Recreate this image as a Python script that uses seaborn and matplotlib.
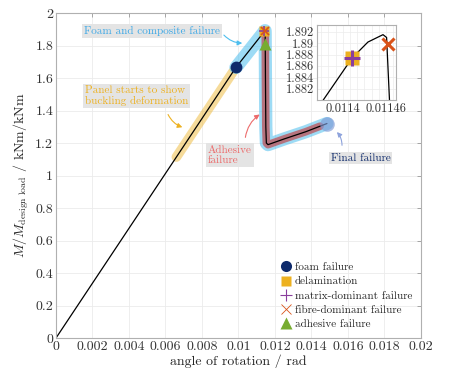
import matplotlib
matplotlib.use("Agg")
import matplotlib.pyplot as plt
import seaborn as sns
import numpy as np
from matplotlib.lines import Line2D
from matplotlib.ticker import FuncFormatter, MultipleLocator

sns.set_style("whitegrid")
plt.rcParams['font.family'] = ['cmr10', 'DejaVu Serif']
plt.rcParams['mathtext.fontset'] = 'cm'
plt.rcParams['axes.formatter.use_mathtext'] = True

# moment-rotation curve
theta = [0, 0.0066, 0.00986, 0.01137, 0.011413, 0.011435, 0.011456, 0.011461,
         0.011465, 0.01148, 0.0115, 0.01153, 0.01162, 0.0125, 0.0137, 0.01485]
moment = [0, 1.114, 1.665, 1.8795, 1.8874, 1.8902, 1.8915, 1.8910,
          1.880, 1.60, 1.30, 1.20, 1.19, 1.225, 1.27, 1.32]

# failure events
foam_pt = (0.00986, 1.665)
delam_pt = (0.011413, 1.8874)
matrix_pt = (0.011413, 1.8874)
fibre_pt = (0.011463, 1.8899)
adhesive_pt = (0.01147, 1.81)
final_pt = (0.01485, 1.32)

# highlighted ranges of rotation
buckling_range = (0.0066, 0.0097)
foam_range = (0.00986, 0.01485)
adhesive_range = (0.01147, 0.01447)

NAVY = '#0E2A6B'
ORANGE = '#EDB120'
PURPLE = '#8A3E9C'
RED = '#D95319'
GREEN = '#77AC30'
LBLUE = '#4DBEEE'
SALMON = '#EC6B6B'
GREYBOX = dict(boxstyle='square,pad=0.15', fc='#e4e4e4', ec='none')

th = np.array(theta)
mo = np.array(moment)


def band(ax, rng, **kw):
    m = (th >= rng[0]) & (th <= rng[1])
    x = np.r_[rng[0], th[m], rng[1]]
    if rng[1] < 0.0114:
        y = np.interp(x, th, mo)
    else:
        y = np.r_[np.interp(rng[0], th[:9], mo[:9]), mo[m], np.interp(rng[1], th, mo)]
    ax.plot(x, y, solid_capstyle='round', solid_joinstyle='round', **kw)


fig = plt.figure(figsize=(4.59, 3.77), dpi=100)
ax = fig.add_axes([0.122, 0.1034, 0.795, 0.862])

band(ax, buckling_range, color=ORANGE, alpha=0.45, lw=7)
band(ax, foam_range, color=LBLUE, alpha=0.55, lw=9.5)
band(ax, adhesive_range, color='#C0474C', alpha=0.7, lw=5.5)
sns.lineplot(x=theta, y=moment, sort=False, color='k', lw=0.9, ax=ax)

ax.plot(*final_pt, 'o', ms=10.5, color='#7f9ad6', alpha=0.65, mec='none')
ax.plot(*foam_pt, 'o', ms=8.5, color=NAVY, mec='none')
ax.plot(*delam_pt, 's', ms=6.5, color=ORANGE, mec='none')
ax.plot(*matrix_pt, '+', ms=7, color=PURPLE, mew=1.2)
ax.plot(*fibre_pt, 'x', ms=6, color=RED, mew=1.2)
ax.plot(*adhesive_pt, '^', ms=8.5, color=GREEN, mec='none')

ax.set_xlim(0, 0.02)
ax.set_ylim(0, 2)
ax.xaxis.set_major_locator(MultipleLocator(0.002))
ax.yaxis.set_major_locator(MultipleLocator(0.2))
fmt = FuncFormatter(lambda v, p: '{:g}'.format(round(v, 6)))
ax.xaxis.set_major_formatter(fmt)
ax.yaxis.set_major_formatter(fmt)
ax.tick_params(direction='in', top=True, right=True, length=3, width=0.6,
               color='#999999', labelsize=10, labelcolor='#333333', pad=2)
ax.grid(True, color='#ebebeb', lw=0.6)
for s in ax.spines.values():
    s.set_color('#b0b0b0')
    s.set_linewidth(0.8)
ax.set_xlabel('angle of rotation / rad', fontsize=10, color='#262626', labelpad=1)
ax.set_ylabel(r'$M/M_{\mathrm{design\ load}}$ / kNm/kNm', fontsize=10,
              color='#262626', labelpad=3)

# annotations
ax.text(0.00526, 1.889, 'Foam and composite failure', color='#3DA8E6', fontsize=8,
        ha='center', va='center', bbox=GREYBOX)
ax.annotate('', xy=(0.01036, 1.815), xytext=(0.00910, 1.877),
            arrowprops=dict(arrowstyle='-|>', color=LBLUE, lw=0.8,
                            connectionstyle='arc3,rad=0.25', mutation_scale=7))
ax.text(0.00159, 1.489, 'Panel starts to show\nbuckling deformation', color=ORANGE,
        fontsize=8, ha='left', va='center', bbox=GREYBOX, linespacing=1.1)
ax.annotate('', xy=(0.00707, 1.292), xytext=(0.00608, 1.391),
            arrowprops=dict(arrowstyle='-|>', color=ORANGE, lw=0.8,
                            connectionstyle='arc3,rad=0.25', mutation_scale=7))
ax.text(0.00833, 1.126, 'Adhesive\nfailure', color=SALMON, fontsize=8,
        ha='left', va='center', bbox=GREYBOX, linespacing=1.1)
ax.annotate('', xy=(0.01129, 1.385), xytext=(0.01036, 1.218),
            arrowprops=dict(arrowstyle='-|>', color=SALMON, lw=0.8,
                            connectionstyle='arc3,rad=-0.25', mutation_scale=7))
ax.text(0.01671, 1.108, 'Final failure', color=NAVY, fontsize=8,
        ha='center', va='center', bbox=GREYBOX)
ax.annotate('', xy=(0.01529, 1.28), xytext=(0.01567, 1.169),
            arrowprops=dict(arrowstyle='-|>', color='#8ea3dc', lw=0.8,
                            connectionstyle='arc3,rad=0.25', mutation_scale=7))

# legend
handles = [
    Line2D([], [], ls='none', marker='o', ms=8, color=NAVY, mec='none'),
    Line2D([], [], ls='none', marker='s', ms=7, color=ORANGE, mec='none'),
    Line2D([], [], ls='none', marker='+', ms=8, color=PURPLE, mew=0.8),
    Line2D([], [], ls='none', marker='x', ms=6.5, color=RED, mew=0.6),
    Line2D([], [], ls='none', marker='^', ms=9, color=GREEN, mec='none'),
]
labels = ['foam failure', 'delamination', 'matrix-dominant failure',
          'fibre-dominant failure', 'adhesive failure']
ax.legend(handles, labels, loc='lower right', frameon=False, fontsize=8,
          handlelength=1.0, handletextpad=0.3, labelspacing=0.4,
          borderaxespad=0.4, bbox_to_anchor=(1.0, 0.0))

# inset zoom around the peak
axi = fig.add_axes([0.6906, 0.7347, 0.172, 0.199])
axi.set_facecolor('white')
sns.lineplot(x=theta, y=moment, sort=False, color='k', lw=0.9, ax=axi)
axi.plot(*delam_pt, 's', ms=10, color=ORANGE, mec='none')
axi.plot(*matrix_pt, '+', ms=11, color=PURPLE, mew=2.2)
axi.plot(*fibre_pt, 'x', ms=8, color=RED, mew=2.2)
axi.set_xlim(0.011364, 0.011474)
axi.set_ylim(1.880, 1.8932)
axi.set_xticks([0.0114, 0.01146])
axi.set_yticks([1.882, 1.884, 1.886, 1.888, 1.89, 1.892])
axi.xaxis.set_minor_locator(MultipleLocator(0.00001))
fmt2 = FuncFormatter(lambda v, p: '{:g}'.format(round(v, 6)))
axi.xaxis.set_major_formatter(fmt2)
axi.yaxis.set_major_formatter(fmt2)
axi.tick_params(direction='in', length=2, width=0.5, color='#999999',
                labelsize=9, labelcolor='#333333', pad=2)
axi.tick_params(which='minor', length=0)
axi.grid(True, which='both', color='#ececec', lw=0.5)
for s in axi.spines.values():
    s.set_color('#b0b0b0')
    s.set_linewidth(0.8)

fig.savefig('out.png', dpi=100)
